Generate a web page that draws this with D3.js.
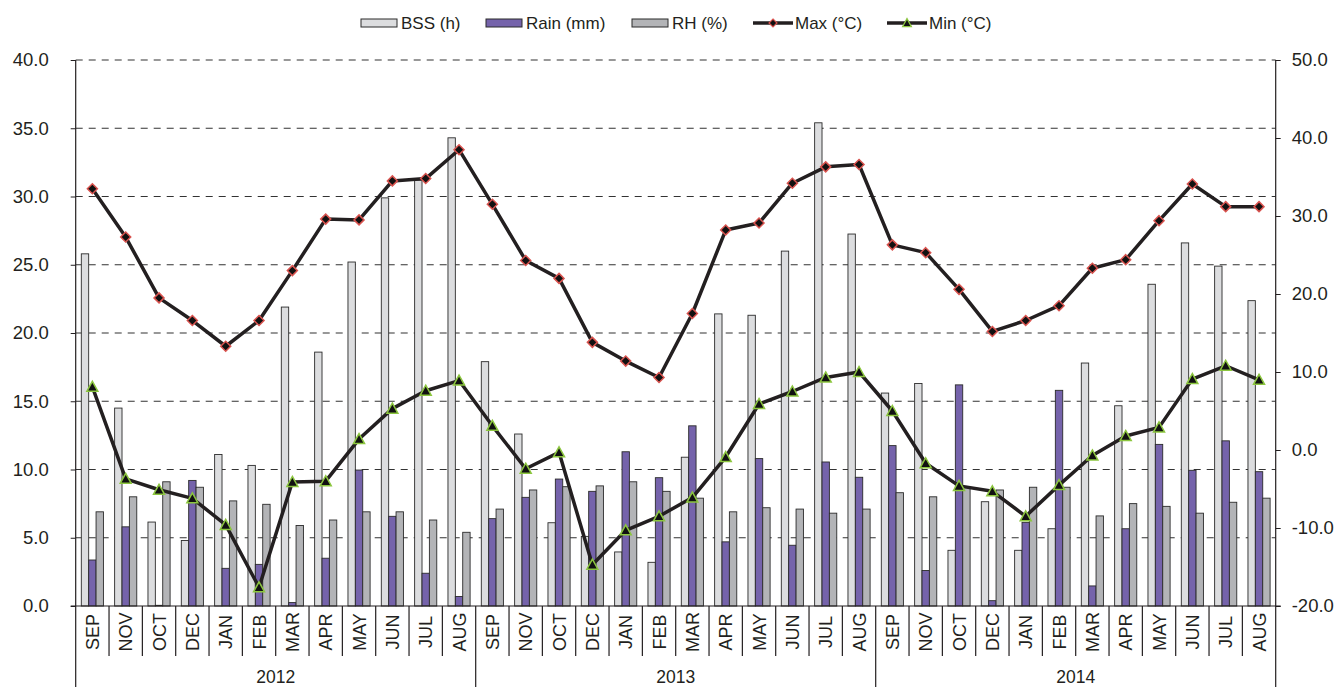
<!DOCTYPE html>
<html>
<head>
<meta charset="utf-8">
<script src="https://cdnjs.cloudflare.com/ajax/libs/d3/7.8.5/d3.min.js"></script>
<style>
  body { margin: 0; background: #fff; }
  svg { display: block; font-family: "Liberation Sans", Arial, sans-serif; }
  .axis text { fill: #231f20; }
</style>
</head>
<body>
<svg width="1336" height="687"></svg>
<script>
var months = ["SEP","NOV","OCT","DEC","JAN","FEB","MAR","APR","MAY","JUN","JUL","AUG"];
var years = ["2012","2013","2014"];

var bss  = [25.8,14.5,6.15,4.8,11.1,10.3,21.9,18.6,25.2,29.9,31.2,34.3,
            17.9,12.6,6.1,5.1,3.96,3.2,10.9,21.4,21.3,26.0,35.4,27.25,
            15.6,16.3,4.08,7.64,4.08,5.66,17.8,14.67,23.57,26.6,24.9,22.37];
var rain = [3.37,5.8,0.05,9.2,2.76,3.05,0.25,3.5,9.96,6.57,2.4,0.7,
            6.4,7.96,9.3,8.4,11.3,9.4,13.2,4.7,10.8,4.45,10.55,9.43,
            11.75,2.6,16.2,0.39,6.13,15.8,1.47,5.66,11.84,9.94,12.1,9.84];
var rh   = [6.9,8.0,9.1,8.7,7.7,7.45,5.9,6.3,6.9,6.9,6.3,5.4,
            7.1,8.5,8.74,8.8,9.1,8.4,7.9,6.9,7.2,7.1,6.8,7.1,
            8.3,8.0,8.7,8.5,8.7,8.7,6.6,7.5,7.3,6.8,7.6,7.9];
var tmax = [33.5,27.3,19.5,16.6,13.3,16.6,23.0,29.6,29.5,34.5,34.8,38.5,
            31.5,24.3,22.0,13.8,11.4,9.3,17.5,28.2,29.1,34.2,36.3,36.6,
            26.3,25.3,20.6,15.2,16.6,18.5,23.3,24.4,29.4,34.1,31.2,31.2];
var tmin = [8.1,-3.7,-5.1,-6.2,-9.6,-17.6,-4.1,-4.0,1.4,5.3,7.6,8.9,
            3.1,-2.4,-0.3,-14.7,-10.3,-8.5,-6.1,-0.9,5.9,7.5,9.3,10.0,
            5.0,-1.7,-4.6,-5.3,-8.5,-4.5,-0.7,1.8,2.9,9.1,10.8,9.0];

var barSeries = ["BSS (h)", "Rain (mm)", "RH (%)"];
var barColors = ["#dcdddf", "#7563ab", "#b3b4b7"];

var svg = d3.select("svg");
var plotLeft = 75.7, plotRight = 1275.7, plotTop = 60, plotBottom = 606;

var cats = [];
years.forEach(function(y, yi) {
  months.forEach(function(m, mi) {
    cats.push({ idx: yi * 12 + mi, month: m, year: y });
  });
});

var x = d3.scaleBand().domain(d3.range(cats.length)).range([plotLeft, plotRight]).padding(0);
var xSub = d3.scaleBand().domain([0, 1, 2]).range([5.6, x.bandwidth() - 5.6]).padding(0);
var yL = d3.scaleLinear().domain([0, 40]).range([plotBottom, plotTop]);
var yR = d3.scaleLinear().domain([-20, 50]).range([plotBottom, plotTop]);

// plain hyphen for negatives, like the original
var fmt = function(d) { return d.toFixed(1); };

// grid lines
var leftTicks = d3.range(0, 40.01, 5);
svg.append("g").selectAll("line")
  .data(leftTicks.filter(function(d) { return d > 0; }))
  .enter().append("line")
    .attr("x1", plotLeft).attr("x2", plotRight)
    .attr("y1", function(d) { return yL(d); })
    .attr("y2", function(d) { return yL(d); })
    .attr("stroke", "#333")
    .attr("stroke-width", 1.2)
    .attr("stroke-dasharray", "7,6");

// bars
var barData = [bss, rain, rh];
var bars = svg.append("g");
barData.forEach(function(vals, si) {
  bars.append("g").selectAll("rect")
    .data(vals)
    .enter().append("rect")
      .attr("x", function(d, i) { return x(i) + xSub(si); })
      .attr("width", xSub.bandwidth())
      .attr("y", function(d) { return yL(d); })
      .attr("height", function(d) { return plotBottom - yL(d); })
      .attr("fill", barColors[si])
      .attr("stroke", "#2b2b2b")
      .attr("stroke-width", 0.9);
});

// lines
var cx = function(d, i) { return x(i) + x.bandwidth() / 2; };
var lineGen = d3.line().x(cx).y(function(d) { return yR(d); });

var diamond = "M0,-5L5,0L0,5L-5,0Z";
var triangle = "M0,-5.5L5.5,4.5L-5.5,4.5Z";

function drawSeries(vals, shape, mstroke) {
  svg.append("path")
    .datum(vals)
    .attr("d", lineGen)
    .attr("fill", "none")
    .attr("stroke", "#231f20")
    .attr("stroke-width", 3.5)
    .attr("stroke-linejoin", "round");
  svg.append("g").selectAll("path")
    .data(vals)
    .enter().append("path")
      .attr("d", shape)
      .attr("transform", function(d, i) { return "translate(" + cx(d, i) + "," + yR(d) + ")"; })
      .attr("fill", "#111")
      .attr("stroke", mstroke)
      .attr("stroke-width", 1.5);
}
drawSeries(tmax, diamond, "#d9534f");
drawSeries(tmin, triangle, "#8cc63f");

// left axis
var axL = svg.append("g")
  .attr("class", "axis")
  .attr("transform", "translate(" + plotLeft + ",0)")
  .call(d3.axisLeft(yL).tickValues(leftTicks).tickFormat(fmt).tickSize(5).tickPadding(22));
axL.select(".domain").remove();
axL.selectAll("line").attr("stroke", "#231f20");
axL.selectAll("text").style("font-size", "18.5px");

// right axis
var axR = svg.append("g")
  .attr("class", "axis")
  .attr("transform", "translate(" + plotRight + ",0)")
  .call(d3.axisRight(yR).tickValues(d3.range(-20, 50.01, 10)).tickFormat(fmt).tickSize(5).tickPadding(11));
axR.select(".domain").remove();
axR.selectAll("line").attr("stroke", "#231f20");
axR.selectAll("text").style("font-size", "18.5px");

// axis frame
svg.append("line").attr("x1", plotLeft).attr("x2", plotLeft).attr("y1", plotTop).attr("y2", 687)
  .attr("stroke", "#231f20").attr("stroke-width", 1.2);
svg.append("line").attr("x1", plotRight).attr("x2", plotRight).attr("y1", plotTop).attr("y2", 687)
  .attr("stroke", "#231f20").attr("stroke-width", 1.2);
svg.append("line").attr("x1", plotLeft - 5).attr("x2", plotRight + 5).attr("y1", plotBottom).attr("y2", plotBottom)
  .attr("stroke", "#231f20").attr("stroke-width", 1.2);

// category separators
svg.append("g").selectAll("line")
  .data(d3.range(1, cats.length).filter(function(i) { return i % 12 !== 0; }))
  .enter().append("line")
    .attr("x1", function(i) { return x(i); })
    .attr("x2", function(i) { return x(i); })
    .attr("y1", plotBottom).attr("y2", 656)
    .attr("stroke", "#231f20").attr("stroke-width", 1.2);

// year separators
svg.append("g").selectAll("line")
  .data([12, 24])
  .enter().append("line")
    .attr("x1", function(i) { return x(i); })
    .attr("x2", function(i) { return x(i); })
    .attr("y1", plotBottom).attr("y2", 687)
    .attr("stroke", "#231f20").attr("stroke-width", 1.2);

// month labels
svg.append("g").selectAll("text")
  .data(cats)
  .enter().append("text")
    .attr("transform", function(d) {
      return "translate(" + (x(d.idx) + x.bandwidth() / 2 + 6.5) + ",632) rotate(-90)";
    })
    .attr("text-anchor", "middle")
    .style("font-size", "18px")
    .attr("fill", "#231f20")
    .text(function(d) { return d.month; });

// year labels
svg.append("g").selectAll("text")
  .data(years)
  .enter().append("text")
    .attr("x", function(d, i) { return (x(i * 12) + x(i * 12 + 11) + x.bandwidth()) / 2; })
    .attr("y", 683)
    .attr("text-anchor", "middle")
    .style("font-size", "17.5px")
    .attr("fill", "#231f20")
    .text(function(d) { return d; });

// legend
var legend = svg.append("g").style("font-size", "17px");
var legX = [361, 486, 632];
barSeries.forEach(function(name, i) {
  legend.append("rect")
    .attr("x", legX[i]).attr("y", 19).attr("width", 36).attr("height", 8)
    .attr("fill", barColors[i]).attr("stroke", "#2b2b2b").attr("stroke-width", 1);
  legend.append("text")
    .attr("x", legX[i] + 40).attr("y", 29)
    .attr("fill", "#231f20")
    .text(name);
});
var lineLeg = [
  { name: "Max (°C)", x: 753, shape: diamond, stroke: "#d9534f" },
  { name: "Min (°C)", x: 887, shape: triangle, stroke: "#8cc63f" }
];
lineLeg.forEach(function(l) {
  legend.append("line")
    .attr("x1", l.x).attr("x2", l.x + 40).attr("y1", 23).attr("y2", 23)
    .attr("stroke", "#231f20").attr("stroke-width", 3.5);
  legend.append("path")
    .attr("d", l.shape)
    .attr("transform", "translate(" + (l.x + 20) + ",23) scale(0.8)")
    .attr("fill", "#111").attr("stroke", l.stroke).attr("stroke-width", 1.5);
  legend.append("text")
    .attr("x", l.x + 42).attr("y", 29)
    .attr("fill", "#231f20")
    .text(l.name);
});
</script>
</body>
</html>
